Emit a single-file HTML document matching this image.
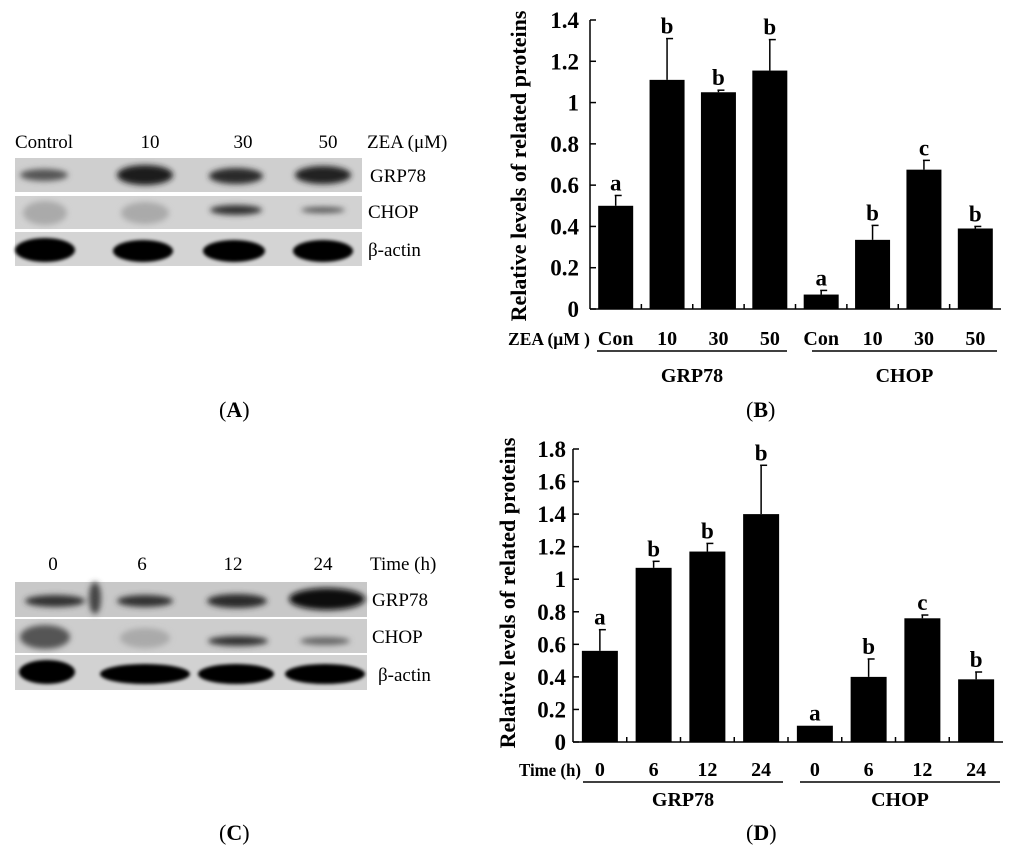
<!DOCTYPE html>
<html><head><meta charset="utf-8">
<style>
html,body{margin:0;padding:0;background:#fff;}
svg{display:block;}
.t{font-family:"Liberation Serif",serif;}
.b{font-family:"Liberation Serif",serif;font-weight:bold;}
</style></head>
<body>
<svg id="fig" width="1024" height="855" viewBox="0 0 1024 855" xmlns="http://www.w3.org/2000/svg">
<defs>
<filter id="blur3" x="-30%" y="-60%" width="160%" height="220%"><feGaussianBlur stdDeviation="3"/></filter>
<filter id="blur2" x="-30%" y="-60%" width="160%" height="220%"><feGaussianBlur stdDeviation="1.6"/></filter>
</defs>

<!-- Blot A -->
<g>
  <text class="t" x="15" y="148" font-size="19">Control</text>
  <text class="t" x="150" y="148" font-size="19" text-anchor="middle">10</text>
  <text class="t" x="243" y="148" font-size="19" text-anchor="middle">30</text>
  <text class="t" x="328" y="148" font-size="19" text-anchor="middle">50</text>
  <text class="t" x="367" y="148" font-size="19">ZEA (μM)</text>
  <rect x="15" y="158" width="347" height="34" fill="#cfcfcf"/>
  <rect x="15" y="196" width="347" height="33" fill="#d2d2d2"/>
  <rect x="15" y="232" width="347" height="34" fill="#d4d4d4"/>
  <g filter="url(#blur3)">
    <ellipse cx="44" cy="175" rx="24" ry="6" fill="#555"/>
    <ellipse cx="145" cy="175" rx="28" ry="10" fill="#1a1a1a"/>
    <ellipse cx="236" cy="176" rx="27" ry="8" fill="#2a2a2a"/>
    <ellipse cx="323" cy="175" rx="28" ry="9" fill="#222"/>
    <ellipse cx="236" cy="210" rx="26" ry="5" fill="#333"/>
    <ellipse cx="323" cy="210" rx="22" ry="3" fill="#555"/>
    <ellipse cx="45" cy="213" rx="22" ry="12" fill="#aaa"/>
    <ellipse cx="145" cy="213" rx="24" ry="11" fill="#aaa"/>
  </g>
  <g filter="url(#blur2)">
    <ellipse cx="45" cy="250" rx="30" ry="12" fill="#000"/>
    <ellipse cx="143" cy="251" rx="30" ry="11" fill="#000"/>
    <ellipse cx="234" cy="251" rx="31" ry="11" fill="#000"/>
    <ellipse cx="323" cy="251" rx="30" ry="11" fill="#000"/>
  </g>
  <text class="t" x="370" y="182" font-size="19">GRP78</text>
  <text class="t" x="368" y="218" font-size="19">CHOP</text>
  <text class="t" x="368" y="256" font-size="19">β-actin</text>
</g>

<!-- Blot C -->
<g>
  <text class="t" x="53" y="570" font-size="19" text-anchor="middle">0</text>
  <text class="t" x="142" y="570" font-size="19" text-anchor="middle">6</text>
  <text class="t" x="233" y="570" font-size="19" text-anchor="middle">12</text>
  <text class="t" x="323" y="570" font-size="19" text-anchor="middle">24</text>
  <text class="t" x="370" y="570" font-size="19">Time (h)</text>
  <rect x="15" y="582" width="352" height="35" fill="#c8c8c8"/>
  <rect x="15" y="619" width="352" height="34" fill="#cdcdcd"/>
  <rect x="15" y="655" width="352" height="35" fill="#d2d2d2"/>
  <g filter="url(#blur3)">
    <ellipse cx="55" cy="601" rx="30" ry="6" fill="#333"/>
    <ellipse cx="95" cy="598" rx="6" ry="16" fill="#444"/>
    <ellipse cx="145" cy="601" rx="28" ry="6" fill="#333"/>
    <ellipse cx="237" cy="601" rx="30" ry="7" fill="#2a2a2a"/>
    <ellipse cx="327" cy="599" rx="38" ry="11" fill="#0a0a0a"/>
    <ellipse cx="45" cy="637" rx="25" ry="12" fill="#555"/>
    <ellipse cx="238" cy="641" rx="30" ry="5" fill="#333"/>
    <ellipse cx="325" cy="641" rx="25" ry="4" fill="#666"/>
    <ellipse cx="145" cy="638" rx="25" ry="10" fill="#aaa"/>
  </g>
  <g filter="url(#blur2)">
    <ellipse cx="47" cy="672" rx="28" ry="12" fill="#000"/>
    <ellipse cx="145" cy="674" rx="45" ry="10" fill="#000"/>
    <ellipse cx="236" cy="674" rx="38" ry="10" fill="#000"/>
    <ellipse cx="325" cy="674" rx="40" ry="10" fill="#000"/>
  </g>
  <text class="t" x="372" y="606" font-size="19">GRP78</text>
  <text class="t" x="372" y="643" font-size="19">CHOP</text>
  <text class="t" x="378" y="681" font-size="19">β-actin</text>
</g>

<!-- Panel labels -->
<text class="t" x="219" y="417" font-size="22">(<tspan font-weight="bold">A</tspan>)</text>
<text class="t" x="746" y="417" font-size="22">(<tspan font-weight="bold">B</tspan>)</text>
<text class="t" x="219" y="840" font-size="22">(<tspan font-weight="bold">C</tspan>)</text>
<text class="t" x="746" y="840" font-size="22">(<tspan font-weight="bold">D</tspan>)</text>

<g id="chartB"></g>
<g id="chartD"></g>
</svg>

<script>
// Chart B data
const bCategories = ["Con","10","30","50","Con","10","30","50"];
const bValues = [0.50, 1.11, 1.05, 1.155, 0.07, 0.335, 0.675, 0.39];
const bErrors = [0.05, 0.20, 0.01, 0.15, 0.02, 0.07, 0.045, 0.01];
const bLetters = ["a","b","b","b","a","b","c","b"];
const bTicks = ["0","0.2","0.4","0.6","0.8","1","1.2","1.4"];
const bTickValues = [0,0.2,0.4,0.6,0.8,1.0,1.2,1.4];
const bGroups = ["GRP78","CHOP"];

// Chart D data
const dCategories = ["0","6","12","24","0","6","12","24"];
const dValues = [0.56, 1.07, 1.17, 1.40, 0.10, 0.40, 0.76, 0.385];
const dErrors = [0.13, 0.04, 0.05, 0.30, 0.0, 0.11, 0.02, 0.045];
const dLetters = ["a","b","b","b","a","b","c","b"];
const dTicks = ["0","0.2","0.4","0.6","0.8","1","1.2","1.4","1.6","1.8"];
const dTickValues = [0,0.2,0.4,0.6,0.8,1.0,1.2,1.4,1.6,1.8];
const dGroups = ["GRP78","CHOP"];

const NS = "http://www.w3.org/2000/svg";
function mk(parent, tag, attrs){
  const e = document.createElementNS(NS, tag);
  for (const k in attrs) e.setAttribute(k, attrs[k]);
  parent.appendChild(e);
  return e;
}

function drawChart(g, cfg, cats, vals, errs, letters, ticks, tickVals, groups){
  const y = v => cfg.y0 - (v / cfg.vmax) * (cfg.y0 - cfg.yTop);
  const slot = (cfg.x1 - cfg.x0) / cats.length;
  const x = i => cfg.x0 + slot * i;
  const ya = mk(g, "line", {x1:cfg.x0, y1:y(cfg.vmax), x2:cfg.x0, y2:cfg.y0, stroke:"#000", "stroke-width":1.5});
  
  
  const xa = mk(g, "line", {x1:cfg.x0, y1:cfg.y0, x2:cfg.x1, y2:cfg.y0, stroke:"#000", "stroke-width":1.5});
  
  
  tickVals.forEach((v, i) => {
    const tk = mk(g, "line", {x1:cfg.x0, y1:y(v), x2:cfg.x0 + 6, y2:y(v), stroke:"#000", "stroke-width":1.5});
    
    
    const tl = mk(g, "text", {x:cfg.tickRight, y:y(v) + 8, "font-size":23, "text-anchor":"end", class:"b"});
    tl.textContent = ticks[i];
    
    
  });
  for (let i = 1; i < cats.length; i++) {
    const tk = mk(g, "line", {x1:x(i), y1:cfg.y0, x2:x(i), y2:cfg.y0 - 5, stroke:"#000", "stroke-width":1.5});
    
    
  }
  const bw = cfg.barW;
  cats.forEach((c, i) => {
    const cx = x(i) + slot / 2;
    const top = y(vals[i]);
    const et = y(vals[i] + errs[i]);
    if (errs[i] > 0) {
      const el = mk(g, "line", {x1:cx, y1:et, x2:cx, y2:top, stroke:"#000", "stroke-width":1.5});
      
      
      const ec = mk(g, "line", {x1:cx - 1, y1:et, x2:cx + 6, y2:et, stroke:"#000", "stroke-width":1.5});
      
      
    }
    const r = mk(g, "rect", {x:cx - bw/2, y:top, width:bw, height:cfg.y0 - top, fill:"#000"});
    
    
    const lt = mk(g, "text", {x:cx, y:et - 5, "font-size":23, "text-anchor":"middle", class:"b"});
    lt.textContent = letters[i];
    
    
    const cl = mk(g, "text", {x:cx, y:cfg.labelY, "font-size":20, "text-anchor":"middle", class:"b"});
    cl.textContent = c;
    
    
  });
  groups.forEach((gname, gi) => {
    const a = cfg.under[gi];
    const ul = mk(g, "line", {x1:a[0], y1:cfg.underY, x2:a[1], y2:cfg.underY, stroke:"#000", "stroke-width":1.5});
    
    
    const gl = mk(g, "text", {x:(a[0] + a[1]) / 2, y:cfg.groupY, "font-size":20, "text-anchor":"middle", class:"b"});
    gl.textContent = gname;
    
    
  });
  const xl = mk(g, "text", {x:cfg.xLabelX, y:cfg.labelY, "font-size":18, class:"b", textLength:cfg.xLabelW, lengthAdjust:"spacingAndGlyphs"});
  xl.textContent = cfg.xLabel;
  
  
  const yt = mk(g, "text", {x:0, y:0, "font-size":22, "text-anchor":"middle", class:"b",
    transform:"translate(" + cfg.titleX + "," + cfg.titleY + ") rotate(-90)"});
  yt.textContent = "Relative levels of related proteins";
  
  
}

drawChart(document.getElementById("chartB"),
  {x0:590, x1:1001, y0:309, yTop:20, vmax:1.4, barW:35, tickRight:579,
   labelY:345, underY:351, groupY:382, under:[[597,787],[812,997]],
   xLabel:"ZEA (μM )", xLabelX:508, xLabelW:82, titleX:526, titleY:166},
  bCategories, bValues, bErrors, bLetters, bTicks, bTickValues, bGroups);

drawChart(document.getElementById("chartD"),
  {x0:573, x1:1003, y0:742, yTop:449, vmax:1.8, barW:36, tickRight:566,
   labelY:776, underY:782, groupY:806, under:[[583,783],[800,1000]],
   xLabel:"Time (h)", xLabelX:519, xLabelW:62, titleX:515, titleY:593},
  dCategories, dValues, dErrors, dLetters, dTicks, dTickValues, dGroups);
</script>
</body></html>
